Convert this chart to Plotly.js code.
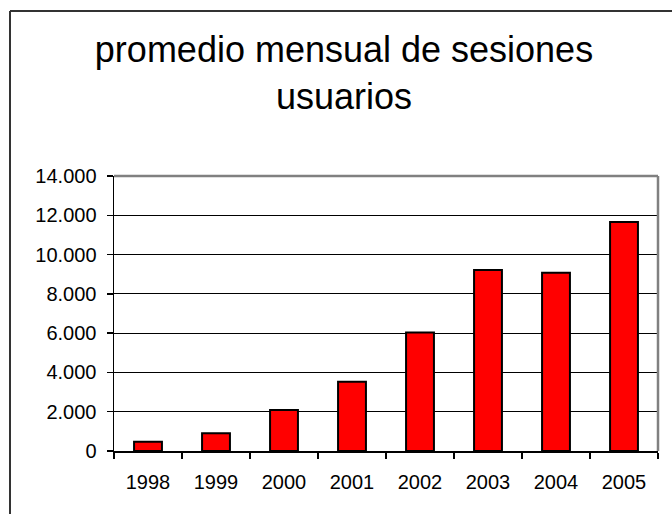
<!DOCTYPE html>
<html>
<head>
<meta charset="utf-8">
<script src="https://cdn.plot.ly/plotly-3.0.1.min.js"></script>
<style>
  html, body { margin: 0; padding: 0; background: #ffffff; }
  #chart { width: 672px; height: 514px; }
</style>
</head>
<body>
<div id="chart"></div>
<script>
// Data
const years = ["1998", "1999", "2000", "2001", "2002", "2003", "2004", "2005"];
const sesiones = [470, 900, 2090, 3530, 6030, 9220, 9080, 11660];
const yTickValues = [0, 2000, 4000, 6000, 8000, 10000, 12000, 14000];
const chartTitle = "promedio mensual de sesiones<br>usuarios";

const FONT = "Liberation Sans, Arial, sans-serif";

const trace = {
  type: "bar",
  x: years,
  y: sesiones,
  marker: { color: "#ff0000", line: { color: "#000000", width: 2 } },
  hoverinfo: "x+y"
};

const layout = {
  width: 672,
  height: 514,
  paper_bgcolor: "#ffffff",
  plot_bgcolor: "#ffffff",
  separators: ",.",
  font: { family: FONT, color: "#000000", size: 20 },
  margin: { l: 114, r: 14, t: 176, b: 63, pad: 0 },
  bargap: 0.59,
  showlegend: false,
  title: {
    text: chartTitle,
    font: { family: FONT, size: 36, color: "#000000" },
    x: 344 / 672,
    xanchor: "center",
    xref: "container",
    y: 1 - 62 / 514,
    yanchor: "top",
    yref: "container"
  },
  xaxis: {
    type: "category",
    tickson: "boundaries",
    ticks: "outside",
    ticklen: 6,
    tickwidth: 1.5,
    tickcolor: "#000000",
    showline: true,
    linecolor: "#000000",
    linewidth: 1.5,
    showgrid: false,
    zeroline: false,
    tickfont: { family: FONT, size: 20, color: "#000000" },
    ticklabelstandoff: 12
  },
  yaxis: {
    range: [0, 14000],
    tickvals: yTickValues,
    tickformat: ",d",
    ticks: "outside",
    ticklen: 6,
    tickwidth: 1.5,
    tickcolor: "#000000",
    showline: true,
    linecolor: "#000000",
    linewidth: 1.5,
    showgrid: true,
    gridcolor: "#000000",
    gridwidth: 1,
    zeroline: false,
    tickfont: { family: FONT, size: 20, color: "#000000" },
    ticklabelstandoff: 6
  },
  shapes: [
    // plot area border (top and right, grey)
    { type: "line", xref: "paper", yref: "paper", x0: 0, x1: 1, y0: 1, y1: 1,
      line: { color: "#808080", width: 2.5 }, layer: "above" },
    { type: "line", xref: "paper", yref: "paper", x0: 1, x1: 1, y0: 0, y1: 1,
      line: { color: "#808080", width: 2.5 }, layer: "above" },
    // outer chart frame: left and top edges (right/bottom fall outside the canvas)
    { type: "line", xref: "paper", yref: "paper",
      x0: (10 - 114) / 544, x1: (10 - 114) / 544, y0: (451 - 11) / 275, y1: -0.4,
      line: { color: "#333333", width: 2 }, layer: "above" },
    { type: "line", xref: "paper", yref: "paper",
      x0: (10 - 114) / 544, x1: 1.2, y0: (451 - 11) / 275, y1: (451 - 11) / 275,
      line: { color: "#333333", width: 2 }, layer: "above" }
  ]
};

Plotly.newPlot("chart", [trace], layout, { displayModeBar: false, staticPlot: true });
</script>
</body>
</html>
